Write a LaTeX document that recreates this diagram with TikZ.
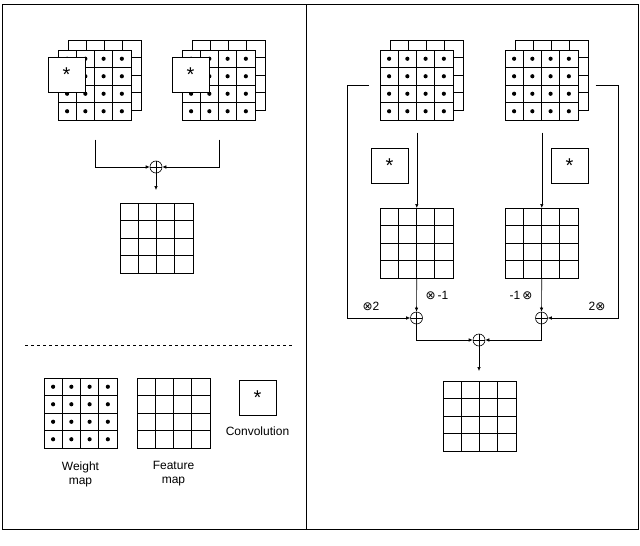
\documentclass[tikz,border=0pt]{standalone}
\usepackage{fontspec}
\setmainfont{Liberation Sans}
\newfontfamily\dvfont{DejaVu Sans}
\usetikzlibrary{arrows.meta}
\newcommand\fmap[4]{%
 \node[draw,fill=white,minimum width=73pt,minimum height=70pt,anchor=north west,inner sep=0pt] (#1) at (#2,#3) {};
 \foreach \i in {1,2,3} {
   \draw (#1.north west) ++(\i*18.25,0) -- ++(0,70);
   \draw (#1.north west) ++(0,\i*17.5) -- ++(73,0);}
 \ifnum#4=1
 \foreach \i in {0,1,2,3} \foreach \j in {0,1,2,3}
   \fill (#1.north west) ++(9.1+\i*18.25,8.75+\j*17.5) circle (2.1pt);
 \fi}
\tikzset{
 conv/.style={draw,fill=white,minimum width=37pt,minimum height=35pt,inner sep=0pt,font=\fontsize{20}{20}\selectfont},
 sumnode/.style={draw,circle,minimum size=12pt,inner sep=0pt,path picture={
   \draw (path picture bounding box.north) -- (path picture bounding box.south)
         (path picture bounding box.west) -- (path picture bounding box.east);}},
 arr/.style={-{Latex[length=4pt,width=3.5pt]}},
 lbl/.style={font=\fontsize{12}{14}\selectfont,align=center,inner sep=0pt},
}
\begin{document}
\begin{tikzpicture}[x=1pt,y=-1pt,line width=0.6pt]
\useasboundingbox (0,0) rectangle (640,546);
\draw[line width=0.9pt] (2,4) rectangle (638,529);
\draw[line width=0.9pt] (306,4) -- (306,529);
% left panel
\fmap{w1b}{68}{40}{0}
\fmap{w1}{58}{50}{1}
\node[conv] (c1) at (66.5,75) {*};
\fmap{w2b}{192}{40}{0}
\fmap{w2}{182}{50}{1}
\node[conv] (c2) at (190.5,75) {*};
\node[sumnode] (s1) at (156,167) {};
\draw[arr] ([yshift=-19pt]w1.south) |- (s1.west);
\draw[arr] ([yshift=-19pt]w2.south) |- (s1.east);
\fmap{f1}{120}{203}{0}
\draw[arr,shorten >=13pt] (s1.south) -- (s1.south |- f1.north);
\draw[dashed,line width=0.6pt] (25,345) -- (292,345);
\fmap{lw}{44}{378}{1}
\fmap{lf}{137}{378}{0}
\node[conv] (lc) at (257.5,397.5) {*};
\node[lbl] (tc) at (257.5,431) {Convolution};
\node[lbl] (tw) at (80.5,474) {Weight\\map};
\node[lbl] (tf) at (173.5,474) {Feature\\map};
% right panel
\fmap{w3b}{390}{40}{0}
\fmap{w3}{380}{50}{1}
\fmap{w4b}{515}{40}{0}
\fmap{w4}{505}{50}{1}
\fmap{f3}{380}{208}{0}
\fmap{f4}{505}{208}{0}
\node[conv] (c3) at (389.5,166) {*};
\node[conv] (c4) at (569.5,166) {*};
\node[sumnode] (s2) at (416.5,318) {};
\node[sumnode] (s3) at (541.5,318) {};
\node[sumnode] (s4) at (479,340) {};
\coordinate (ca) at (347,318);
\coordinate (cb) at (618,318);
\draw[arr] ([xshift=-11pt]w3.west) -| (ca) -- (s2.west);
\draw[arr] ([xshift=17pt]w4.east) -| (cb) -- (s3.east);
\draw[arr] ([yshift=-12pt]w3.south) -- (f3.north);
\draw[arr] ([yshift=-12pt]w4.south) -- (f4.north);
\draw[arr] (f3.south) -- (s2.north);
\draw[arr] (f4.south) -- (s3.north);
\draw[arr] (s2.south) |- (s4.west);
\draw[arr] (s3.south) |- (s4.east);
\fmap{f5}{443}{381}{0}
\draw[arr,shorten >=10pt] (s4.south) -- (s4.south |- f5.north);
\node[lbl] (m1) at (437,295) {{\dvfont ⊗}\,-1};
\node[lbl] (m2) at (521,295) {-1\,{\dvfont ⊗}};
\node[lbl] (m3) at (371,306) {{\dvfont ⊗}2};
\node[lbl] (m4) at (597,306) {2{\dvfont ⊗}};
\end{tikzpicture}
\end{document}
